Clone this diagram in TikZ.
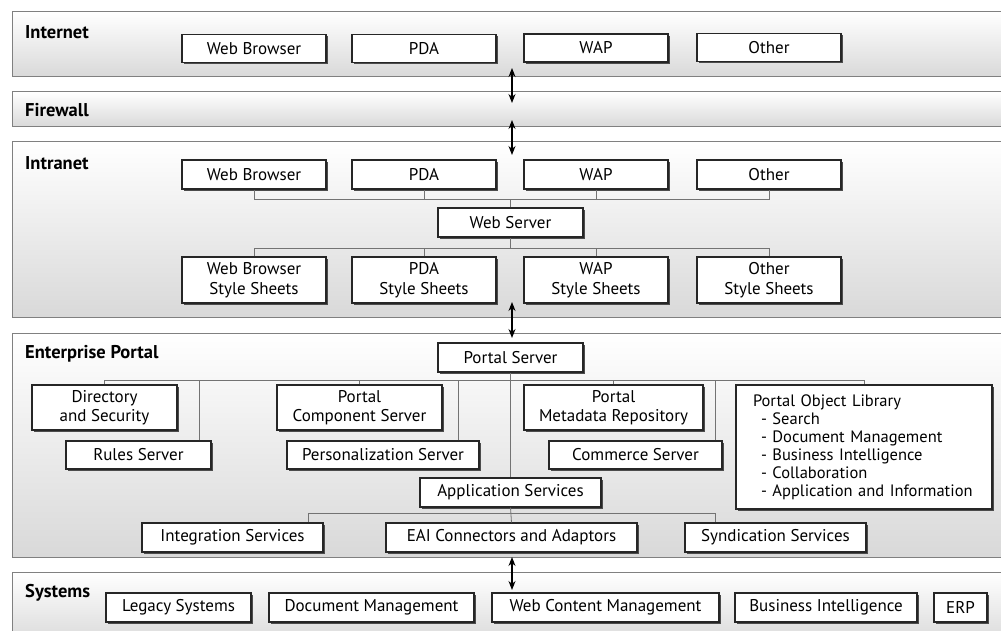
\documentclass[tikz,border=0pt]{standalone}
\usepackage{fontspec}
\setmainfont{PT Sans}
\usetikzlibrary{shadows,arrows.meta}
\begin{document}
\begin{tikzpicture}[x=1pt,y=-1pt,
  panel/.style={draw=black!50, line width=1pt, top color=white, bottom color=black!15},
  box/.style={draw=black!85, line width=1.1pt, fill=white, inner sep=0pt, align=center,
    font=\fontsize{17}{19.5}\selectfont,
    drop shadow={shadow xshift=1.8pt, shadow yshift=-1.8pt, fill=black!70, opacity=1}},
  layer/.style={font=\fontsize{18.5}{20}\selectfont\bfseries, anchor=base west, inner sep=0pt},
  link/.style={draw=black!55, line width=0.8pt},
  flow/.style={{Stealth[length=9pt,width=7pt]}-{Stealth[length=9pt,width=7pt]}, line width=1.1pt}
]
\fill[white] (0,0) rectangle (1001,631);
\useasboundingbox (0,0) rectangle (1001,631);

% layer panels
\draw[panel] (12,12) rectangle (1012,77);
\draw[panel] (12,92) rectangle (1012,127);
\draw[panel] (12,142) rectangle (1012,317);
\draw[panel] (12,333) rectangle (1012,557);
\draw[panel] (12,572) rectangle (1012,645);

\node[layer] (lInternet) at (25,39) {Internet};
\node[layer] (lFirewall) at (25,117) {Firewall};
\node[layer] (lIntranet) at (25,170) {Intranet};
\node[layer] (lPortal) at (25,358) {Enterprise Portal};
\node[layer] (lSystems) at (25,597) {Systems};

% Internet clients
\node[box, minimum width=144pt, minimum height=28pt] (inWB) at (254,48.5) {Web Browser};
\node[box, minimum width=144pt, minimum height=28pt] (inPDA) at (424,48.5) {PDA};
\node[box, minimum width=144pt, minimum height=28pt] (inWAP) at (596,48) {WAP};
\node[box, minimum width=144pt, minimum height=28pt] (inOther) at (769,47.5) {Other};

% Intranet clients, web server and style sheets
\node[box, minimum width=144pt, minimum height=29pt] (itWB) at (254,174.5) {Web Browser};
\node[box, minimum width=144pt, minimum height=29pt] (itPDA) at (424,174.5) {PDA};
\node[box, minimum width=144pt, minimum height=29pt] (itWAP) at (596,174.5) {WAP};
\node[box, minimum width=144pt, minimum height=29pt] (itOther) at (769,174.5) {Other};
\node[box, minimum width=145pt, minimum height=29pt] (websrv) at (510.5,222.5) {Web Server};
\node[box, minimum width=144pt, minimum height=46pt] (ssWB) at (254,280) {Web Browser\\Style Sheets};
\node[box, minimum width=144pt, minimum height=46pt] (ssPDA) at (424,280) {PDA\\Style Sheets};
\node[box, minimum width=144pt, minimum height=46pt] (ssWAP) at (596,280) {WAP\\Style Sheets};
\node[box, minimum width=144pt, minimum height=46pt] (ssOther) at (769,280) {Other\\Style Sheets};

\coordinate (busA) at (0,199);
\coordinate (busB) at (0,248);
\draw[link] (itWB.south) -- (itWB.south |- busA) -- (itOther.south |- busA) -- (itOther.south);
\draw[link] (itPDA.south) -- (itPDA.south |- busA);
\draw[link] (itWAP.south) -- (itWAP.south |- busA);
\draw[link] (websrv.north) -- (websrv.north |- busA);
\draw[link] (ssWB.north) -- (ssWB.north |- busB) -- (ssOther.north |- busB) -- (ssOther.north);
\draw[link] (ssPDA.north) -- (ssPDA.north |- busB);
\draw[link] (ssWAP.north) -- (ssWAP.north |- busB);
\draw[link] (websrv.south) -- (websrv.south |- busB);

% Enterprise portal
\node[box, minimum width=145pt, minimum height=29pt] (portal) at (510.5,357.5) {Portal Server};
\node[box, minimum width=145pt, minimum height=45pt] (dirsec) at (104.5,407.5) {Directory\\and Security};
\node[box, minimum width=145pt, minimum height=28pt] (rules) at (138.5,455) {Rules Server};
\node[box, minimum width=165pt, minimum height=45pt] (pcs) at (359.5,407.5) {Portal\\Component Server};
\node[box, minimum width=192pt, minimum height=28pt] (pers) at (383,455) {Personalization Server};
\node[box, minimum width=179pt, minimum height=45pt] (pmr) at (613.5,407.5) {Portal\\Metadata Repository};
\node[box, minimum width=173pt, minimum height=28pt] (commerce) at (635.5,455) {Commerce Server};
\node[box, minimum width=256pt, minimum height=124pt, align=left, text width=222pt,
      inner xsep=17pt, font=\fontsize{16.5}{18}\selectfont] (pol) at (864,447)
  {Portal Object Library\\
   \hspace*{8pt}- Search\\
   \hspace*{8pt}- Document Management\\
   \hspace*{8pt}- Business Intelligence\\
   \hspace*{8pt}- Collaboration\\
   \hspace*{8pt}- Application and Information};
\node[box, minimum width=181pt, minimum height=29pt] (appsrv) at (510.5,492.5) {Application Services};
\node[box, minimum width=181pt, minimum height=29pt] (integ) at (232.5,537.5) {Integration Services};
\node[box, minimum width=251pt, minimum height=29pt] (eai) at (511.5,537.5) {EAI Connectors and Adaptors};
\node[box, minimum width=181pt, minimum height=29pt] (synd) at (775.5,537.5) {Syndication Services};

\coordinate (busC) at (0,380);
\coordinate (busD) at (0,513);
\draw[link] (dirsec.north) -- (dirsec.north |- busC) -- (pol.north |- busC) -- (pol.north);
\draw[link] ([xshift=60.5pt]rules.north) -- ([xshift=60.5pt]rules.north |- busC);
\draw[link] (pcs.north) -- (pcs.north |- busC);
\draw[link] ([xshift=75pt]pers.north) -- ([xshift=75pt]pers.north |- busC);
\draw[link] (pmr.north) -- (pmr.north |- busC);
\draw[link] ([xshift=79.5pt]commerce.north) -- ([xshift=79.5pt]commerce.north |- busC);
\draw[link] (portal.south) -- (appsrv.north);
\draw[link] (appsrv.south) -- (eai.north);
\draw[link] ([xshift=75.5pt]integ.north) -- ([xshift=75.5pt]integ.north |- busD) -- ([xshift=-60.5pt]synd.north |- busD) -- ([xshift=-60.5pt]synd.north);

% Back-end systems
\node[box, minimum width=145pt, minimum height=29pt] (legacy) at (178.5,607.5) {Legacy Systems};
\node[box, minimum width=205pt, minimum height=29pt] (docmgmt) at (371.5,607.5) {Document Management};
\node[box, minimum width=227pt, minimum height=29pt] (wcm) at (605.5,607.5) {Web Content Management};
\node[box, minimum width=182pt, minimum height=29pt] (bi) at (826,607.5) {Business Intelligence};
\node[box, minimum width=53pt, minimum height=29pt] (erp) at (960.5,607.5) {ERP};

% traffic between layers
\coordinate (f1a) at (512,68);  \coordinate (f1b) at (512,103);
\coordinate (f2a) at (512,120); \coordinate (f2b) at (512,155);
\coordinate (f3a) at (512,302); \coordinate (f3b) at (512,338);
\coordinate (f4a) at (512,557); \coordinate (f4b) at (512,590);
\draw[flow] (f1a) -- (f1b);
\draw[flow] (f2a) -- (f2b);
\draw[flow] (f3a) -- (f3b);
\draw[flow] (f4a) -- (f4b);
\end{tikzpicture}
\end{document}
